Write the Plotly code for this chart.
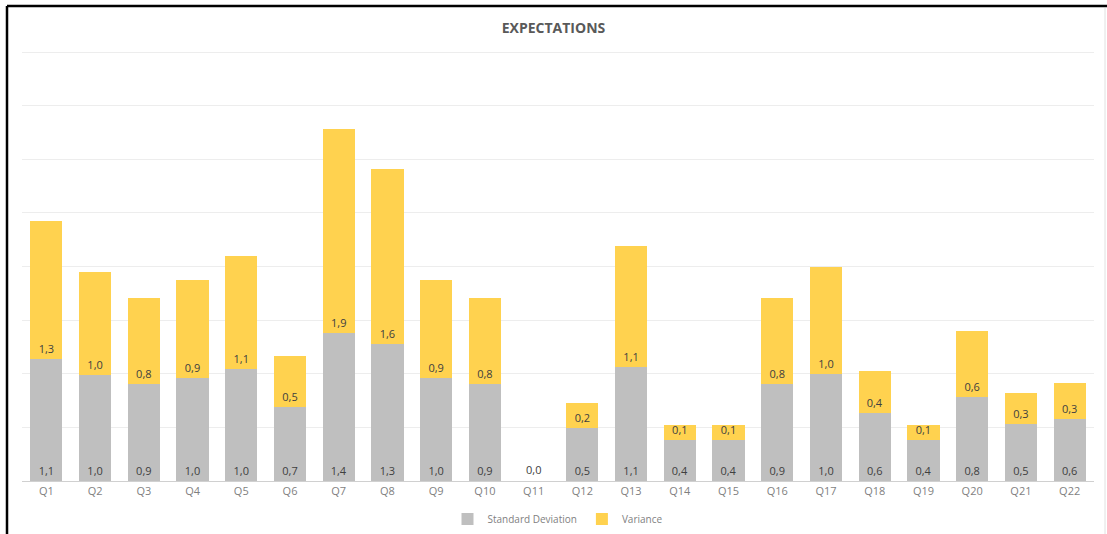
import plotly.graph_objects as go

categories = [f"Q{i}" for i in range(1, 23)]
std_dev = [1.14, 0.99, 0.90, 0.96, 1.04, 0.69, 1.38, 1.28, 0.96, 0.90, 0.0,
           0.49, 1.06, 0.38, 0.38, 0.90, 1.00, 0.63, 0.38, 0.78, 0.53, 0.58]
variance = [1.28, 0.96, 0.81, 0.91, 1.06, 0.48, 1.90, 1.63, 0.91, 0.81, 0.0,
            0.24, 1.13, 0.14, 0.14, 0.81, 1.00, 0.40, 0.14, 0.62, 0.29, 0.33]

W, H = 1107, 534
ml, mr, mt, mb = 22, 13, 47, 53
pw, ph = W - ml - mr, H - mt - mb
unit_px = 107.25  # pixels per 1.0 on the value axis

def px(x):
    return (x - ml) / pw

def py(y):
    return (H - mb - y) / ph

fig = go.Figure()
fig.add_trace(go.Bar(
    x=categories, y=std_dev, name="Standard Deviation",
    marker=dict(color="#BFBFBF", line=dict(width=0)),
    texttemplate="%{y:.1f}", textposition="inside", insidetextanchor="start",
    textangle=0, textfont=dict(color="#404040", size=11),
))
fig.add_trace(go.Bar(
    x=categories, y=variance, name="Variance",
    marker=dict(color="#FFD24F", line=dict(width=0)),
    texttemplate="%{y:.1f}", textposition="inside", insidetextanchor="start",
    textangle=0, textfont=dict(color="#404040", size=11),
))

# zero-valued category label
for c, s, v in zip(categories, std_dev, variance):
    if s == 0 and v == 0:
        fig.add_annotation(x=c, y=0, text=f"{v:.1f}".replace(".", ","), showarrow=False,
                           yanchor="bottom", yshift=2,
                           font=dict(color="#404040", size=11, family="Open Sans"))

shapes = [
    dict(type="line", xref="paper", yref="paper", x0=px(7), x1=px(W), y0=py(6), y1=py(6),
         line=dict(color="black", width=2.5)),
    dict(type="line", xref="paper", yref="paper", x0=px(7), x1=px(7), y0=py(6), y1=py(H),
         line=dict(color="black", width=2.5)),
    dict(type="line", xref="paper", yref="paper", x0=px(1105), x1=px(1105), y0=py(8), y1=py(H),
         line=dict(color="#E0E0E0", width=1)),
]

fig.update_layout(
    width=W, height=H,
    margin=dict(l=ml, r=mr, t=mt, b=mb, autoexpand=False),
    barmode="stack", bargap=0.34,
    separators=",.",
    paper_bgcolor="white", plot_bgcolor="white",
    font=dict(family="Open Sans", color="#7F7F7F", size=11),
    title=dict(text="<b>EXPECTATIONS</b>", x=0.5, xanchor="center", y=1 - 28 / H, yanchor="middle",
               font=dict(size=14, color="#595959", family="Open Sans")),
    xaxis=dict(showline=True, linecolor="#D0D0D0", linewidth=1, ticks="", showgrid=False,
               tickfont=dict(color="#7F7F7F", size=11)),
    yaxis=dict(range=[0, ph / unit_px], tickvals=[0.5 * i for i in range(1, 9)],
               showticklabels=False, gridcolor="#EDEDED",
               gridwidth=1, zeroline=False, showline=False),
    legend=dict(orientation="h", x=0.5, xanchor="center", yref="container",
                y=(H - 519) / H, yanchor="middle",
                font=dict(size=10, color="#7F7F7F"), itemwidth=30,
                traceorder="normal"),
    uniformtext=dict(mode="show", minsize=11),
    shapes=shapes,
)

fig.write_html("out.html")
